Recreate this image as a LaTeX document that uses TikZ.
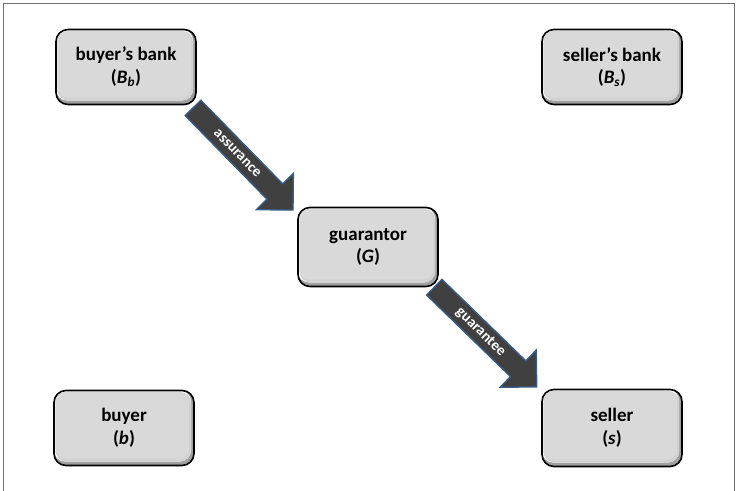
\documentclass[tikz,border=0pt]{standalone}
\usepackage{fontspec}
\setmainfont{Carlito}
\definecolor{boxgray}{HTML}{D9D9D9}
\definecolor{arrowgray}{HTML}{404040}
\definecolor{arrowblue}{HTML}{385D8A}
\definecolor{framegray}{HTML}{707070}
\begin{document}
\begin{tikzpicture}[x=1pt,y=-1pt,
  party/.style={rounded corners=12pt, draw=black, line width=1.6pt,
    minimum width=140pt, minimum height=75pt, align=center,
    font=\bfseries\fontsize{19}{22.5}\selectfont, fill=boxgray,
    path picture={
      \fill[gray!75] (path picture bounding box.south west) rectangle (path picture bounding box.north east);
      \fill[white, rounded corners=11pt] (path picture bounding box.north west) rectangle ([shift={(-3pt,4pt)}]path picture bounding box.south east);
      \fill[gray!35, rounded corners=11pt] ([shift={(1.5pt,-1.5pt)}]path picture bounding box.north west) rectangle ([shift={(-3pt,4pt)}]path picture bounding box.south east);
      \fill[boxgray, rounded corners=10pt] ([shift={(1.5pt,-1.5pt)}]path picture bounding box.north west) rectangle ([shift={(-5pt,7pt)}]path picture bounding box.south east);
    }},
  blockarrow/.style={fill=arrowgray, draw=arrowblue, line width=1.3pt, line join=miter},
  arrowlabel/.style={text=white, inner sep=0pt, font=\bfseries\fontsize{15}{17}\selectfont}]
\useasboundingbox (0,0) rectangle (736,490);
\draw[framegray, line width=0.8pt] (3,495) -- (3,3) -- (734,3) -- (734,495);

\node[party] (bb) at (126,67) {buyer’s bank\\(\textit{B}\textsubscript{\textit{b}})};
\node[party] (sb) at (612,67) {seller’s bank\\(\textit{B}\textsubscript{\textit{s}})};
\node[party, minimum height=79pt] (g) at (368,247) {guarantor\\(\textit{G})};
\node[party] (b) at (124,428) {buyer\\(\textit{b})};
\node[party, minimum height=77pt] (s) at (612,428) {seller\\(\textit{s})};

\begin{scope}[shift={(243,159)}, rotate=-45.6]
  \draw[blockarrow] (-71.5pt,11pt) -- (45.5pt,11pt) -- (45.5pt,26pt) -- (71.5pt,0pt) -- (45.5pt,-26pt) -- (45.5pt,-11pt) -- (-71.5pt,-11pt) -- cycle;
  \node[arrowlabel, rotate=-45.6] (assur) at (-8pt,0pt) {assurance};
\end{scope}

\begin{scope}[shift={(485.5,337)}, rotate=-44.2]
  \draw[blockarrow] (-71.5pt,11pt) -- (45.5pt,11pt) -- (45.5pt,26pt) -- (71.5pt,0pt) -- (45.5pt,-26pt) -- (45.5pt,-11pt) -- (-71.5pt,-11pt) -- cycle;
  \node[arrowlabel, rotate=-44.2] (guar) at (-7pt,0pt) {guarantee};
\end{scope}
\end{tikzpicture}
\end{document}
